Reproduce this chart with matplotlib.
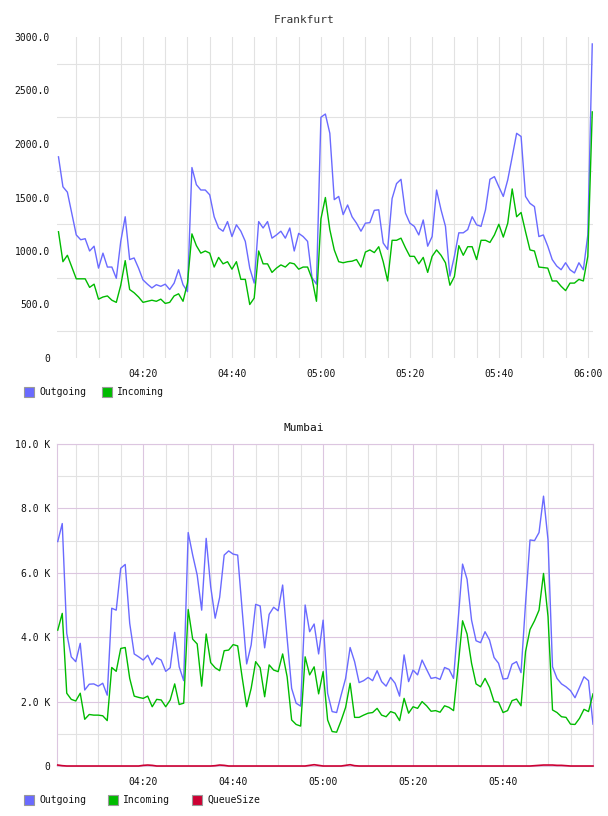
import matplotlib
matplotlib.use('Agg')
import matplotlib.pyplot as plt
import matplotlib.dates as mdates
from matplotlib.patches import Rectangle
from matplotlib.ticker import MultipleLocator, FixedLocator, FuncFormatter
import pandas as pd

plt.rcParams['font.family'] = ['DejaVu Sans Mono']
plt.rcParams['font.size'] = 7

# Frankfurt, one sample per minute from 04:01 to 06:01
frankfurt_out = [
    1880, 1600, 1550, 1350, 1150, 1105, 1115, 1000, 1045, 840,
    980, 850, 850, 745, 1090, 1320, 920, 935, 840, 730,
    690, 655, 685, 670, 690, 640, 700, 825, 685, 620,
    1780, 1620, 1570, 1570, 1525, 1320, 1215, 1185, 1275, 1135,
    1245, 1185, 1090, 840, 700, 1275, 1215, 1275, 1120, 1150,
    1185, 1120, 1215, 1000, 1165, 1135, 1090, 750, 690, 2250,
    2280, 2100, 1480, 1510, 1340, 1430, 1320, 1260, 1185, 1260,
    1265, 1380, 1385, 1075, 1015, 1490, 1630, 1670, 1355, 1260,
    1230, 1150, 1290, 1045, 1135, 1570, 1385, 1230, 765, 950,
    1170, 1170, 1200, 1320, 1245, 1230, 1385, 1670, 1695, 1600,
    1510, 1665, 1880, 2100, 2070, 1510, 1445, 1415, 1135, 1150,
    1045, 920, 860, 825, 890, 825, 795, 890, 825, 1150,
    2935,
]
frankfurt_in = [
    1180, 900, 960, 850, 740, 740, 740, 660, 690, 550,
    570, 580, 540, 520, 680, 910, 640, 610, 570, 520,
    530, 540, 530, 550, 510, 520, 580, 600, 530, 700,
    1160, 1050, 980, 1000, 980, 850, 940, 880, 900, 830,
    900, 735, 735, 500, 560, 1000, 880, 880, 800, 840,
    870, 850, 890, 880, 830, 850, 850, 740, 530, 1300,
    1500, 1200, 1010, 900, 890, 900, 905, 920, 850, 990,
    1010, 985, 1040, 900, 720, 1100, 1100, 1120, 1030, 950,
    950, 880, 940, 800, 950, 1010, 960, 890, 680, 760,
    1050, 960, 1040, 1040, 920, 1100, 1100, 1080, 1150, 1250,
    1130, 1260, 1580, 1320, 1360, 1180, 1010, 1000, 850, 845,
    840, 720, 720, 670, 630, 700, 700, 735, 720, 950,
    2300,
]

# Mumbai, one sample per minute from 04:01 to 06:00
mumbai_out = [
    6970, 7530, 4120, 3390, 3240, 3810, 2360, 2540, 2550, 2480,
    2570, 2200, 4900, 4840, 6140, 6260, 4430, 3480, 3390, 3290,
    3440, 3140, 3360, 3290, 2940, 3050, 4150, 3080, 2650, 7250,
    6550, 5930, 4840, 7070, 5570, 4590, 5240, 6550, 6680, 6580,
    6550, 4840, 3170, 3760, 5020, 4970, 3670, 4710, 4930, 4820,
    5620, 3960, 2410, 1950, 1860, 5000, 4170, 4410, 3480, 4530,
    2260, 1690, 1660, 2200, 2720, 3680, 3240, 2590, 2650, 2750,
    2650, 2960, 2620, 2480, 2750, 2570, 2170, 3450, 2620, 2980,
    2830, 3290, 3000, 2720, 2750, 2690, 3060, 3000, 2720, 4500,
    6270, 5800, 4530, 3890, 3830, 4170, 3910, 3370, 3190, 2700,
    2720, 3160, 3240, 2900, 5050, 7020, 7000, 7250, 8380, 7020,
    3080, 2720, 2550, 2460, 2340, 2120, 2440, 2770, 2650, 1300,
]
mumbai_in = [
    4220, 4740, 2260, 2070, 2020, 2260, 1450, 1600, 1580, 1580,
    1560, 1410, 3060, 2940, 3650, 3680, 2720, 2170, 2130, 2100,
    2170, 1840, 2070, 2050, 1840, 2050, 2550, 1910, 1950, 4860,
    3940, 3790, 2480, 4100, 3210, 3050, 2960, 3580, 3600, 3770,
    3730, 2750, 1840, 2410, 3240, 3050, 2150, 3140, 2980, 2930,
    3480, 2770, 1430, 1290, 1240, 3390, 2830, 3080, 2240, 2930,
    1430, 1070, 1050, 1410, 1820, 2570, 1510, 1510, 1580, 1640,
    1660, 1790, 1580, 1530, 1690, 1640, 1410, 2100, 1640, 1840,
    1790, 2000, 1870, 1700, 1720, 1670, 1870, 1820, 1720, 3080,
    4510, 4100, 3190, 2550, 2460, 2720, 2440, 2000, 1980, 1660,
    1720, 2030, 2080, 1870, 3550, 4240, 4510, 4840, 5980, 4640,
    1740, 1660, 1530, 1510, 1300, 1290, 1480, 1760, 1690, 2240,
]
mumbai_queue = [
    30, 10, 0, 0, 0, 0, 0, 0, 0, 0,
    0, 0, 0, 0, 0, 0, 0, 0, 0, 20,
    30, 20, 0, 0, 0, 0, 0, 0, 0, 0,
    0, 0, 0, 0, 0, 10, 30, 20, 0, 0,
    0, 0, 0, 0, 0, 0, 0, 0, 0, 0,
    0, 0, 0, 0, 0, 0, 20, 40, 20, 0,
    0, 0, 0, 0, 20, 40, 10, 0, 0, 0,
    0, 0, 0, 0, 0, 0, 0, 0, 0, 0,
    0, 0, 0, 0, 0, 0, 0, 0, 0, 0,
    0, 0, 0, 0, 0, 0, 0, 0, 0, 0,
    0, 0, 0, 0, 0, 0, 10, 20, 30, 30,
    30, 20, 20, 10, 0, 0, 0, 0, 0, 0,
]

times_fra = pd.date_range('2024-01-01 04:01', periods=len(frankfurt_out), freq='min')
times_mum = pd.date_range('2024-01-01 04:01', periods=len(mumbai_out), freq='min')

BLUE = '#6a6aff'
GREEN = '#00bb00'
RED = '#cc0033'
GRID = '#e2e2e2'
PURPLE = '#dcc6e0'

W, H = 608, 816
fig = plt.figure(figsize=(W / 100, H / 100), dpi=100)


def axes_px(left, top, right, bottom):
    return fig.add_axes([left / W, 1 - bottom / H, (right - left) / W, (bottom - top) / H])


def legend_px(y, items):
    for x, label, color in items:
        fig.add_artist(Rectangle((x / W, 1 - (y + 5) / H), 10 / W, 10 / H,
                                 transform=fig.transFigure, facecolor=color,
                                 edgecolor='#999999', lw=0.8))
        fig.text((x + 15) / W, 1 - y / H, label, ha='left', va='center',
                 fontsize=7, color='#111111')


def time_axis(ax):
    ax.xaxis.set_major_locator(mdates.MinuteLocator(byminute=[0, 20, 40]))
    ax.xaxis.set_minor_locator(mdates.MinuteLocator(byminute=range(0, 60, 5)))
    ax.tick_params(which='both', length=0, colors='#111111')
    ax.tick_params(axis='y', pad=5)
    ax.tick_params(axis='x', pad=8)


# --- Frankfurt ---
ax1 = axes_px(57, 37, 593, 358)
ax1.plot(times_fra, frankfurt_out, color=BLUE, lw=1.0, zorder=3)
ax1.plot(times_fra, frankfurt_in, color=GREEN, lw=1.0, zorder=3)
ax1.set_xlim(pd.Timestamp('2024-01-01 04:00:40'), pd.Timestamp('2024-01-01 06:01:10'))
ax1.set_ylim(0, 3000)
time_axis(ax1)
ax1.xaxis.set_major_formatter(mdates.DateFormatter('%H:%M'))
ax1.yaxis.set_major_locator(MultipleLocator(500))
ax1.yaxis.set_minor_locator(FixedLocator([250, 750, 1250, 1750, 2250, 2750]))
ax1.yaxis.set_major_formatter(FuncFormatter(lambda v, p: '0' if v == 0 else f'{v:.1f}'))
ax1.xaxis.grid(True, which='both', color=GRID, lw=0.8)
ax1.yaxis.grid(True, which='minor', color=GRID, lw=0.8)
ax1.yaxis.grid(False, which='major')
ax1.set_axisbelow(True)
for s in ax1.spines.values():
    s.set_visible(False)

fig.text(0.5, 1 - 20 / H, 'Frankfurt', ha='center', va='center', fontsize=8, color='#333333')
legend_px(392, [(24, 'Outgoing', BLUE), (102, 'Incoming', GREEN)])

# --- Mumbai ---
ax2 = axes_px(57, 444, 593, 766)
ax2.plot(times_mum, mumbai_out, color=BLUE, lw=1.0, zorder=3)
ax2.plot(times_mum, mumbai_in, color=GREEN, lw=1.0, zorder=3)
ax2.plot(times_mum, mumbai_queue, color=RED, lw=1.2, zorder=4, clip_on=False)
ax2.set_xlim(pd.Timestamp('2024-01-01 04:00:50'), pd.Timestamp('2024-01-01 06:00:00'))
ax2.set_ylim(0, 10000)
time_axis(ax2)
ax2.xaxis.set_major_formatter(FuncFormatter(
    lambda v, p: '' if mdates.num2date(v).hour == 6 else mdates.num2date(v).strftime('%H:%M')))
ax2.yaxis.set_major_locator(MultipleLocator(2000))
ax2.yaxis.set_minor_locator(MultipleLocator(1000))
ax2.yaxis.set_major_formatter(FuncFormatter(lambda v, p: '0' if v == 0 else f'{v / 1000:.1f} K'))
ax2.grid(True, which='major', color=PURPLE, lw=0.8)
ax2.grid(True, which='minor', color=GRID, lw=0.8)
ax2.set_axisbelow(True)
for s in ax2.spines.values():
    s.set_color(PURPLE)
    s.set_linewidth(0.8)

fig.text(0.5, 1 - 428 / H, 'Mumbai', ha='center', va='center', fontsize=8, color='#111111')
legend_px(800, [(24, 'Outgoing', BLUE), (108, 'Incoming', GREEN), (192, 'QueueSize', RED)])

fig.savefig('out.png', dpi=100)
